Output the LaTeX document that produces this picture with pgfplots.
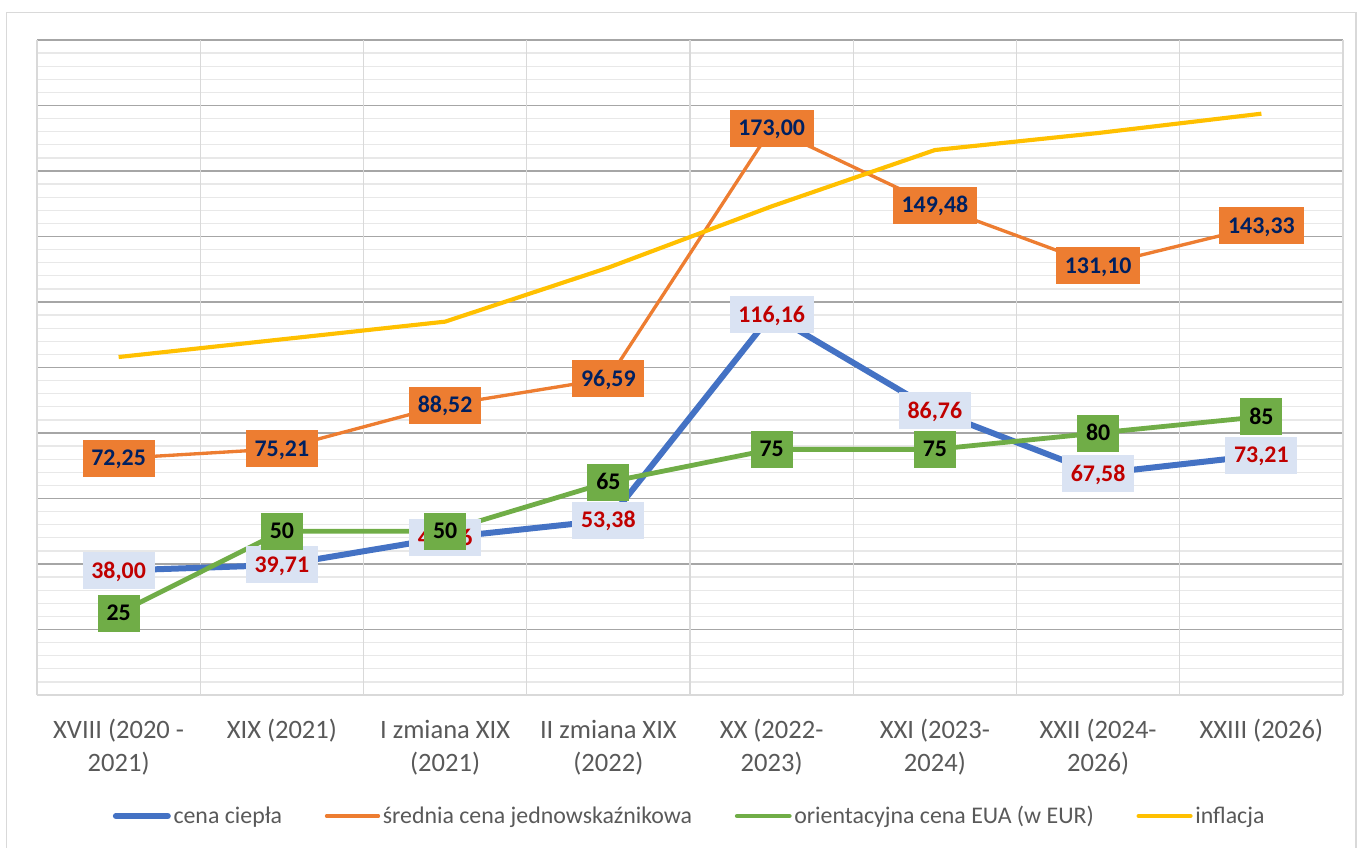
\documentclass[border=0pt]{standalone}
\usepackage{pgfplots}
\pgfplotsset{compat=1.18}
\usepackage{pgfplotstable}
\usepackage{fontspec}
\setmainfont{Carlito}
\definecolor{cblue}{HTML}{4472C4}
\definecolor{corange}{HTML}{ED7D31}
\definecolor{cgreen}{HTML}{70AD47}
\definecolor{cyellow}{HTML}{FFC000}
\definecolor{lblfill}{HTML}{DAE3F3}
\definecolor{lblred}{HTML}{C00000}
\definecolor{lblnavy}{HTML}{002060}
\definecolor{tickgray}{HTML}{595959}
\definecolor{majgrid}{HTML}{A6A6A6}
\definecolor{mingrid}{HTML}{E8E8E8}
\definecolor{vgrid}{HTML}{D9D9D9}
\pgfkeys{/pgf/number format/assume math mode=true}

\pgfplotstableread{
x blue orange green infl
0 38.00 72.25 25 103.2
1 39.71 75.21 50 108.6
2 48.06 88.52 50 114.0
3 53.38 96.59 65 130.5
4 116.16 173.00 75 149.2
5 86.76 149.48 75 166.4
6 67.58 131.10 80 171.6
7 73.21 143.33 85 177.5
}\datatable

\begin{document}
\begin{tikzpicture}
\path[use as bounding box] (-27.75pt,-114pt) rectangle (994.5pt,521.25pt);
\draw[vgrid, line width=1.1pt] (-22.875pt,-116.25pt) rectangle (989.25pt,511.875pt);
\begin{axis}[
  at={(0pt,0pt)}, anchor=south west,
  scale only axis, width=979.5pt, height=491.25pt,
  xmin=-0.5, xmax=7.5, ymin=0, ymax=200,
  clip=false,
  axis line style={draw=none},
  major tick length=0pt, minor tick length=0pt,
  xtick={0,...,7},
  xticklabels={
    {\strut XVIII (2020 -\\2021)},
    {\strut XIX (2021)},
    {\strut I zmiana XIX\\(2021)},
    {\strut II zmiana XIX\\(2022)},
    {\strut XX (2022-\\2023)},
    {\strut XXI (2023-\\2024)},
    {\strut XXII (2024-\\2026)},
    {\strut XXIII (2026)}},
  xticklabel style={align=center, inner sep=0pt, text=tickgray,
    font=\fontsize{19.9}{24.75}\selectfont, yshift=-14.95pt},
  xmajorgrids=false,
  extra x ticks={-0.5,0.5,1.5,2.5,3.5,4.5,5.5,6.5,7.5},
  extra x tick labels={},
  extra x tick style={xmajorgrids=true, major grid style={vgrid, line width=1.1pt}},
  ytick={20,40,...,200},
  yticklabels={},
  minor ytick={4,8,...,196},
  ymajorgrids=true, yminorgrids=true,
  major grid style={majgrid, line width=1.25pt},
  minor grid style={mingrid, line width=1.0pt},
  extra y ticks={0},
  extra y tick labels={},
  extra y tick style={ymajorgrids=true, major grid style={vgrid, line width=1.1pt}},
  legend columns=4,
  legend style={draw=none, fill=none, at={(0.5,-0.1847)}, anchor=center,
    font=\fontsize{17.9}{21}\selectfont, text=tickgray,
    /tikz/every even column/.append style={column sep=30pt}},
  legend image code/.code={\draw[#1, line cap=round] (0pt,0pt) -- (39pt,0pt);},
]
\addplot[cblue, line width=4.5pt, line join=round] table[x=x,y=blue]{\datatable};
\addlegendentry{cena ciepła}
\addplot[corange, line width=2.5pt, line join=round] table[x=x,y=orange]{\datatable};
\addlegendentry{średnia cena jednowskaźnikowa}
\addplot[cgreen, line width=3.6pt, line join=round] table[x=x,y=green]{\datatable};
\addlegendentry{orientacyjna cena EUA (w EUR)}
\addplot[cyellow, line width=3.1pt, line join=round] table[x=x,y=infl]{\datatable};
\addlegendentry{inflacja}

% data labels above all lines
\addplot[draw=none, forget plot, point meta=y,
  nodes near coords={\pgfmathprintnumber[fixed,fixed zerofill,precision=2,use comma]{\pgfplotspointmeta}},
  every node near coord/.append style={anchor=center, fill=lblfill, text=lblred,
    font=\bfseries\fontsize{17.9}{21}\selectfont, inner xsep=6.6pt, inner ysep=0pt,
    text height=11.3pt, text depth=0pt, minimum height=27.75pt}]
  table[x=x,y=blue]{\datatable};
\addplot[draw=none, forget plot, point meta=y,
  nodes near coords={\pgfmathprintnumber[fixed,fixed zerofill,precision=2,use comma]{\pgfplotspointmeta}},
  every node near coord/.append style={anchor=center, fill=corange, text=lblnavy,
    font=\bfseries\fontsize{17.9}{21}\selectfont, inner xsep=6.6pt, inner ysep=0pt,
    text height=11.3pt, text depth=0pt, minimum height=27.75pt}]
  table[x=x,y=orange]{\datatable};
\addplot[draw=none, forget plot, point meta=y,
  nodes near coords={\pgfmathprintnumber[fixed,precision=0]{\pgfplotspointmeta}},
  every node near coord/.append style={anchor=center, fill=cgreen, text=black,
    font=\bfseries\fontsize{17.9}{21}\selectfont, inner xsep=6.6pt, inner ysep=0pt,
    text height=11.3pt, text depth=0pt, minimum height=27.75pt}]
  table[x=x,y=green]{\datatable};
\end{axis}
\end{tikzpicture}
\end{document}
